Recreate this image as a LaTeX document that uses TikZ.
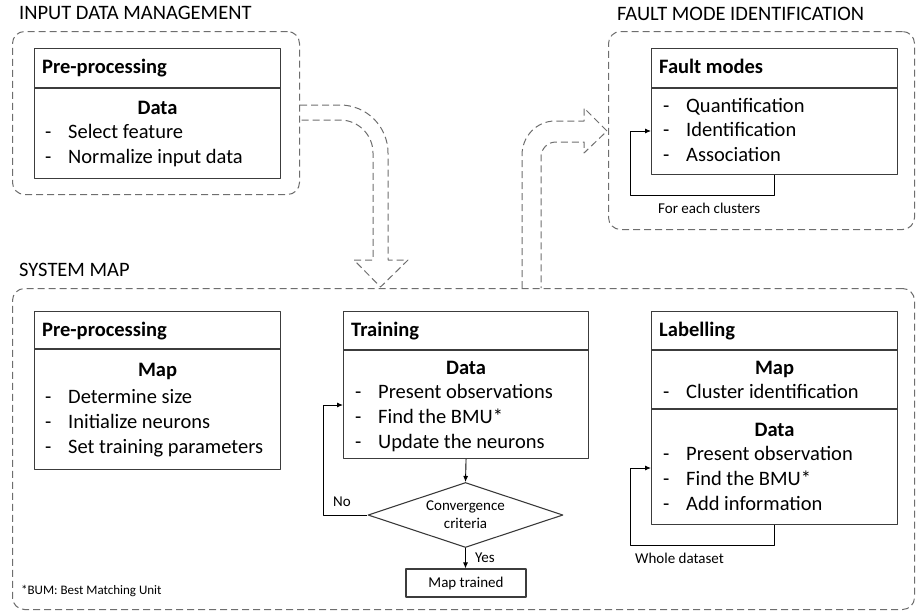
\documentclass[tikz,border=0pt]{standalone}
\usepackage{fontspec}
\setmainfont{Carlito}
\usetikzlibrary{arrows.meta,shapes.geometric,positioning}
\definecolor{boxline}{RGB}{60,60,60}
\definecolor{dashline}{RGB}{110,110,110}
\newcommand{\bigfont}{\fontsize{20.5}{25}\selectfont}
\newcommand{\smallfont}{\fontsize{15}{18}\selectfont}
\newcommand{\itm}[1]{\makebox[23pt][l]{-}#1}
\begin{document}
\begin{tikzpicture}[x=1pt, y=-1pt, line join=round, >={Latex[length=6pt,width=5pt]},
	panel/.style={draw=dashline, line width=1pt, dash pattern=on 7pt off 4pt, rounded corners=12pt, anchor=north west, inner sep=0pt},
	block/.style={draw=boxline, line width=1.1pt, anchor=north west, inner sep=0pt},
	title/.style={font=\bigfont, anchor=west, inner sep=0pt, text height=14pt, text depth=4pt},
	head/.style={title, font=\bigfont\bfseries},
	sub/.style={head, anchor=center},
	note/.style={font=\smallfont, anchor=west, inner sep=0pt},
	link/.style={draw=black, line width=0.9pt},
	hollow/.style={draw=dashline, line width=1pt, dash pattern=on 7pt off 4pt}]
	\useasboundingbox (0,0) rectangle (920,613);
	%=== panels
	\node[title] (t-idm) at (19,14) {INPUT DATA MANAGEMENT};
	\node[title] (t-fmi) at (617,15) {FAULT MODE IDENTIFICATION};
	\node[title] (t-sys) at (19,271) {SYSTEM MAP};
	\node[panel, minimum width=287pt, minimum height=163pt] (idm) at (12,31) {};
	\node[panel, minimum width=306pt, minimum height=198pt] (fmi) at (608,31) {};
	\node[panel, minimum width=902pt, minimum height=321pt] (sys) at (12,288) {};
	%=== input data management
	\node[block, minimum width=246pt, minimum height=130pt] (pp1) at (34,48) {};
	\draw[boxline, line width=1.1pt] (pp1.west |- 0,88) -- (pp1.east |- 0,88);
	\node[head] (pp1-h) at (42,68) {Pre-processing};
	\node[sub] (pp1-d) at (pp1.north |- 0,109) {Data};
	\node[title] (pp1-a) at (45,133) {\itm{Select feature}};
	\node[title] (pp1-b) at (45,158) {\itm{Normalize input data}};
	%=== fault modes
	\node[block, minimum width=246pt, minimum height=126pt] (fm) at (651,48) {};
	\draw[boxline, line width=1.1pt] (fm.west |- 0,88) -- (fm.east |- 0,88);
	\node[head] (fm-h) at (659,68) {Fault modes};
	\node[title] (fm-a) at (663,107) {\itm{Quantification}};
	\node[title] (fm-b) at (663,131) {\itm{Identification}};
	\node[title] (fm-c) at (663,156) {\itm{Association}};
	\draw[link,->] (fm.south) |- (630,195) |- (fm.west |- 0,131);
	\node[note] (fm-n) at (658,208) {For each clusters};
	%=== system map: pre-processing
	\node[block, minimum width=246pt, minimum height=158pt] (pp2) at (34,311) {};
	\draw[boxline, line width=1.1pt] (pp2.west |- 0,349) -- (pp2.east |- 0,349);
	\node[head] (pp2-h) at (42,331) {Pre-processing};
	\node[sub] (pp2-m) at (pp2.north |- 0,371) {Map};
	\node[title] (pp2-a) at (45,398) {\itm{Determine size}};
	\node[title] (pp2-b) at (45,423) {\itm{Initialize neurons}};
	\node[title] (pp2-c) at (45,448) {\itm{Set training parameters}};
	%=== system map: training
	\node[block, minimum width=245pt, minimum height=147pt] (tr) at (343,311) {};
	\draw[boxline, line width=1.1pt] (tr.west |- 0,350) -- (tr.east |- 0,350);
	\node[head] (tr-h) at (351,331) {Training};
	\node[sub] (tr-d) at (tr.north |- 0,369) {Data};
	\node[title] (tr-a) at (355,393) {\itm{Present observations}};
	\node[title] (tr-b) at (355,418) {\itm{Find the BMU*}};
	\node[title] (tr-c) at (355,443) {\itm{Update the neurons}};
	\node[diamond, draw=boxline, line width=1.1pt, aspect=3, minimum width=195pt, minimum height=65pt, inner sep=0pt, font=\smallfont, align=center] (conv) at (465.5,515) {Convergence\\criteria};
	\node[draw=boxline, line width=1.1pt, minimum width=120pt, minimum height=28pt, inner sep=0pt, font=\smallfont] (done) at (466,583) {Map trained};
	\draw[link,->] (tr.south) -- (conv.north);
	\draw[link,->] (conv.south) -- (conv.south |- done.north);
	\draw[link,->] (conv.west) -| (323,405) -- (tr.west |- 0,405);
	\node[note] (no) at (333,502) {No};
	\node[note] (yes) at (475,558) {Yes};
	%=== system map: labelling
	\node[block, minimum width=246pt, minimum height=213pt] (lab) at (651,311) {};
	\draw[boxline, line width=1.1pt] (lab.west |- 0,350) -- (lab.east |- 0,350);
	\draw[boxline, line width=1.1pt] (lab.west |- 0,409) -- (lab.east |- 0,409);
	\node[head] (lab-h) at (659,331) {Labelling};
	\node[sub] (lab-m) at (lab.north |- 0,369) {Map};
	\node[title] (lab-a) at (663,393) {\itm{Cluster identification}};
	\node[sub] (lab-d) at (lab.north |- 0,431) {Data};
	\node[title] (lab-b) at (663,455) {\itm{Present observation}};
	\node[title] (lab-c) at (663,480) {\itm{Find the BMU*}};
	\node[title] (lab-e) at (663,505) {\itm{Add information}};
	\draw[link,->] (lab.south) |- (630,545) |- (lab.west |- 0,468);
	\node[note] (lab-n) at (635,558) {Whole dataset};
	\node[font=\fontsize{13}{15}\selectfont, anchor=west, inner sep=0pt] (bmu) at (21,591) {*BUM: Best Matching Unit};
	%=== hollow arrows between panels
	\draw[hollow] (idm.east |- 0,105) -- (340,105) to[out=0,in=90] (388,153) -- (388,260) -- (408,260)
		-- (380.5,287) -- (354,260) -- (373,260) -- (373,153) to[out=90,in=0] (340,120) -- (idm.east |- 0,120);
	\draw[hollow] (522,288) -- (522,155) to[out=90,in=180] (555,121) -- (584,121) -- (584,108) -- (607,131)
		-- (584,153) -- (584,142) -- (556,142) to[out=180,in=90] (541,157) -- (541,288);
\end{tikzpicture}
\end{document}
